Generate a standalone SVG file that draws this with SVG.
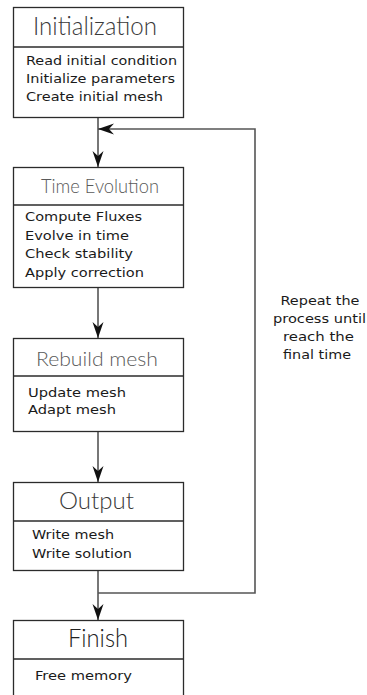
<svg xmlns="http://www.w3.org/2000/svg" width="367" height="695" viewBox="0 0 367 695">
<style>
.box{fill:#fff;stroke:#2b2b2b;stroke-width:1.3}
.div{stroke:#2b2b2b;stroke-width:1.3}
.title{font-family:"Lato","DejaVu Sans",sans-serif;font-weight:300;fill:#3a3a3a}
.body{font-family:"DejaVu Sans","Liberation Sans",sans-serif;font-size:11.5px;fill:#1a1a1a}
.con{fill:none;stroke:#555;stroke-width:1.6}
.note{font-family:"DejaVu Sans","Liberation Sans",sans-serif;font-size:11.5px;fill:#1a1a1a;text-anchor:middle}
</style>
<defs>
<marker id="arr" markerUnits="userSpaceOnUse" viewBox="-17 -7 18 14" refX="0" refY="0" markerWidth="18" markerHeight="14" orient="auto">
<path d="M0,0 L-16,-5.5 L-11,0 L-16,5.5 Z" fill="#111"/>
</marker>
</defs>
<rect width="367" height="695" fill="#fff"/>
<g id="connectors">
<path class="con" d="M98,117 V167" marker-end="url(#arr)"/>
<path class="con" d="M98,288 V338" marker-end="url(#arr)"/>
<path class="con" d="M98,432 V482" marker-end="url(#arr)"/>
<path class="con" d="M98,571 V620" marker-end="url(#arr)"/>
<path class="con" d="M98,593 H255 V129 H98" marker-end="url(#arr)"/>
</g>
<g id="init">
<rect class="box" x="13.5" y="7.5" width="170" height="110"/>
<line class="div" x1="13.5" y1="47" x2="183.5" y2="47"/>
<text class="title" x="33" y="35" font-size="25" textLength="124" lengthAdjust="spacingAndGlyphs">Initialization</text>
<text class="body" x="26" y="65" textLength="151" lengthAdjust="spacingAndGlyphs">Read initial condition</text>
<text class="body" x="26" y="83" textLength="149" lengthAdjust="spacingAndGlyphs">Initialize parameters</text>
<text class="body" x="26" y="101" textLength="137" lengthAdjust="spacingAndGlyphs">Create initial mesh</text>
</g>
<g id="time">
<rect class="box" x="13.5" y="167.5" width="170" height="120"/>
<line class="div" x1="13.5" y1="205" x2="183.5" y2="205"/>
<text class="title" x="41" y="193" font-size="19.5" textLength="118" lengthAdjust="spacingAndGlyphs" style="fill:#5a5a5a">Time Evolution</text>
<text class="body" x="25" y="221" textLength="117" lengthAdjust="spacingAndGlyphs">Compute Fluxes</text>
<text class="body" x="25" y="240" textLength="104" lengthAdjust="spacingAndGlyphs">Evolve in time</text>
<text class="body" x="25" y="258" textLength="108" lengthAdjust="spacingAndGlyphs">Check stability</text>
<text class="body" x="25" y="277" textLength="119" lengthAdjust="spacingAndGlyphs">Apply correction</text>
</g>
<g id="rebuild">
<rect class="box" x="13.5" y="338.5" width="170" height="93"/>
<line class="div" x1="13.5" y1="376" x2="183.5" y2="376"/>
<text class="title" x="36" y="366" font-size="19.5" textLength="122" lengthAdjust="spacingAndGlyphs" style="fill:#5a5a5a">Rebuild mesh</text>
<text class="body" x="28" y="397" textLength="98" lengthAdjust="spacingAndGlyphs">Update mesh</text>
<text class="body" x="28" y="414" textLength="88" lengthAdjust="spacingAndGlyphs">Adapt mesh</text>
</g>
<g id="output">
<rect class="box" x="13.5" y="482.5" width="170" height="88"/>
<line class="div" x1="13.5" y1="521" x2="183.5" y2="521"/>
<text class="title" x="59" y="509" font-size="22.5" textLength="75" lengthAdjust="spacingAndGlyphs">Output</text>
<text class="body" x="32" y="539" textLength="82" lengthAdjust="spacingAndGlyphs">Write mesh</text>
<text class="body" x="32" y="558" textLength="100" lengthAdjust="spacingAndGlyphs">Write solution</text>
</g>
<g id="finish">
<rect class="box" x="13.5" y="620.5" width="170" height="90"/>
<line class="div" x1="13.5" y1="659" x2="183.5" y2="659"/>
<text class="title" x="68" y="647" font-size="24.5" textLength="60" lengthAdjust="spacingAndGlyphs" style="fill:#222">Finish</text>
<text class="body" x="35" y="680" textLength="97" lengthAdjust="spacingAndGlyphs">Free memory</text>
</g>
<g id="repeat-label">
<text class="note" x="320" y="305" textLength="79" lengthAdjust="spacingAndGlyphs">Repeat the</text>
<text class="note" x="319.5" y="323" textLength="93" lengthAdjust="spacingAndGlyphs">process until</text>
<text class="note" x="318.5" y="341" textLength="71" lengthAdjust="spacingAndGlyphs">reach the</text>
<text class="note" x="317" y="359" textLength="68" lengthAdjust="spacingAndGlyphs">final time</text>
</g>
</svg>
